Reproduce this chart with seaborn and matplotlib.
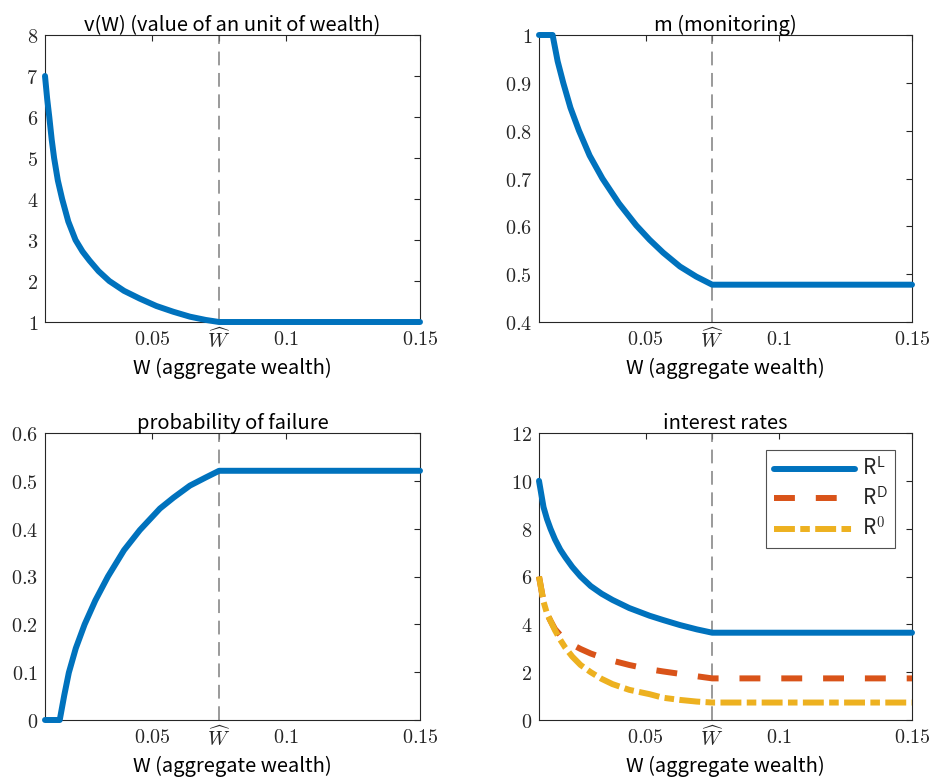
import matplotlib
matplotlib.use("Agg")
import matplotlib.pyplot as plt
import seaborn as sns
import pandas as pd

# ---------------- data ----------------
W_HAT = 0.075
XMIN, XMAX = 0.01, 0.15

# v(W)
w_v = [0.0100, 0.0108, 0.0116, 0.0125, 0.0134, 0.0148, 0.0164, 0.0187, 0.0214,
       0.0240, 0.0266, 0.0300, 0.0340, 0.0395, 0.0454, 0.0516, 0.0579, 0.0641,
       0.0700, 0.0750, 0.1500]
v_vals = [7.00, 6.45, 6.00, 5.45, 5.00, 4.45, 4.00, 3.45, 3.00,
          2.72, 2.50, 2.24, 2.00, 1.76, 1.57, 1.39, 1.25, 1.13,
          1.05, 1.00, 1.00]

# m (monitoring)
w_m = [0.0100, 0.0151, 0.0170, 0.0191, 0.0218, 0.0250, 0.0290, 0.0338, 0.0400,
       0.0465, 0.0515, 0.0566, 0.0629, 0.0690, 0.0750, 0.1500]
m_vals = [1.000, 1.000, 0.945, 0.900, 0.848, 0.800, 0.748, 0.700, 0.648,
          0.602, 0.572, 0.545, 0.516, 0.495, 0.478, 0.478]

# probability of failure
w_p = [0.0100, 0.0155, 0.0172, 0.0189, 0.0215, 0.0248, 0.0288, 0.0335, 0.0395,
       0.0454, 0.0529, 0.0580, 0.0641, 0.0700, 0.0750, 0.1500]
p_vals = [0.000, 0.000, 0.052, 0.099, 0.150, 0.200, 0.250, 0.300, 0.355,
          0.397, 0.442, 0.465, 0.490, 0.507, 0.521, 0.521]

# interest rates
w_r = [0.0100, 0.0117, 0.0130, 0.0143, 0.0160, 0.0180, 0.0199, 0.0225, 0.0256,
       0.0294, 0.0335, 0.0376, 0.0439, 0.0515, 0.0566, 0.0629, 0.0692, 0.0750,
       0.1500]
rL_vals = [10.00, 8.90, 8.40, 8.00, 7.55, 7.12, 6.80, 6.40, 6.00,
           5.60, 5.28, 5.02, 4.68, 4.36, 4.18, 3.97, 3.79, 3.65,
           3.65]
rD_vals = [6.00, 4.95, 4.45, 4.15, 3.80, 3.55, 3.36, 3.15, 2.97,
           2.78, 2.62, 2.48, 2.30, 2.12, 2.03, 1.93, 1.83, 1.74,
           1.74]
r0_vals = [6.00, 4.95, 4.45, 4.15, 3.75, 3.35, 3.02, 2.65, 2.30,
           2.00, 1.72, 1.50, 1.26, 1.08, 0.93, 0.84, 0.77, 0.73,
           0.73]

x_ticks = [0.05, W_HAT, 0.1, 0.15]
x_ticklabels = [r"$0.05$", r"$\widehat{W}$", r"$0.1$", r"$0.15$"]

titles = ["v(W) (value of an unit of wealth)", "m (monitoring)",
          "probability of failure", "interest rates"]
xlabel = "W (aggregate wealth)"
legend_labels = ["R$^{\\mathsf{L}}$", "R$^{\\mathsf{D}}$", "R$^{\\mathsf{0}}$"]

# ---------------- style ----------------
sns.set_theme(style="white")
plt.rcParams["font.family"] = ["Noto Sans CJK JP", "DejaVu Sans"]
plt.rcParams["mathtext.fontset"] = "cm"

BLUE, RED, YELLOW = "#0072BD", "#D95319", "#EDB120"
DARK = "#262626"
LW = 4.3

fig = plt.figure(figsize=(9.35, 7.83), dpi=100)
rects = [
    [45 / 935, 1 - 322 / 783, 375 / 935, 287 / 783],
    [539 / 935, 1 - 322 / 783, 373 / 935, 287 / 783],
    [45 / 935, 1 - 720 / 783, 375 / 935, 287 / 783],
    [539 / 935, 1 - 720 / 783, 373 / 935, 287 / 783],
]
axes = [fig.add_axes(r) for r in rects]


def style_axis(ax, yticks, ylabels, ylim, title):
    ax.axvline(W_HAT, color="#7f7f7f", lw=1.1, ls=(0, (9, 5)), zorder=1)
    ax.set_xlim(XMIN, XMAX)
    ax.set_ylim(*ylim)
    ax.set_xticks(x_ticks)
    ax.set_xticklabels(x_ticklabels)
    ax.set_yticks(yticks)
    ax.set_yticklabels(ylabels)
    ax.tick_params(direction="in", top=True, right=True, length=4.5, width=0.8,
                   colors=DARK, labelsize=14.5, pad=5)
    for s in ax.spines.values():
        s.set_color(DARK)
        s.set_linewidth(0.8)
    ax.set_title(title, fontsize=14.5, color="black", pad=3)
    ax.set_xlabel(xlabel, fontsize=14.5, color="black", labelpad=3)
    ax.set_ylabel("")


def curve(ax, xs, ys, color, ls="-", label=None):
    df = pd.DataFrame({"W": xs, "y": ys})
    sns.lineplot(data=df, x="W", y="y", ax=ax, color=color, lw=LW, linestyle=ls,
                 estimator=None, sort=False, label=label, clip_on=False, zorder=3)


curve(axes[0], w_v, v_vals, BLUE)
style_axis(axes[0], range(1, 9), [f"${i}$" for i in range(1, 9)], (1, 8), titles[0])

curve(axes[1], w_m, m_vals, BLUE)
mt = [0.4, 0.5, 0.6, 0.7, 0.8, 0.9, 1.0]
style_axis(axes[1], mt, ["$0.4$", "$0.5$", "$0.6$", "$0.7$", "$0.8$", "$0.9$", "$1$"],
           (0.4, 1.0), titles[1])

curve(axes[2], w_p, p_vals, BLUE)
pt = [0, 0.1, 0.2, 0.3, 0.4, 0.5, 0.6]
style_axis(axes[2], pt, ["$0$", "$0.1$", "$0.2$", "$0.3$", "$0.4$", "$0.5$", "$0.6$"],
           (0, 0.6), titles[2])

ax = axes[3]
curve(ax, w_r, rL_vals, BLUE, "-", legend_labels[0])
curve(ax, w_r, rD_vals, RED, (0, (3.5, 3.5)), legend_labels[1])
curve(ax, w_r, r0_vals, YELLOW, (0, (3.5, 0.9, 1.6, 0.9)), legend_labels[2])
style_axis(ax, range(0, 13, 2), [f"${i}$" for i in range(0, 13, 2)], (0, 12), titles[3])
leg = ax.legend(loc="upper right", bbox_to_anchor=(0.955, 0.94), fontsize=15,
                handlelength=3.9, frameon=True, fancybox=False, borderpad=0.35,
                labelspacing=0.3, handletextpad=0.35, borderaxespad=0)
leg.get_frame().set_edgecolor(DARK)
leg.get_frame().set_linewidth(0.8)

fig.savefig("out.png", dpi=100)
